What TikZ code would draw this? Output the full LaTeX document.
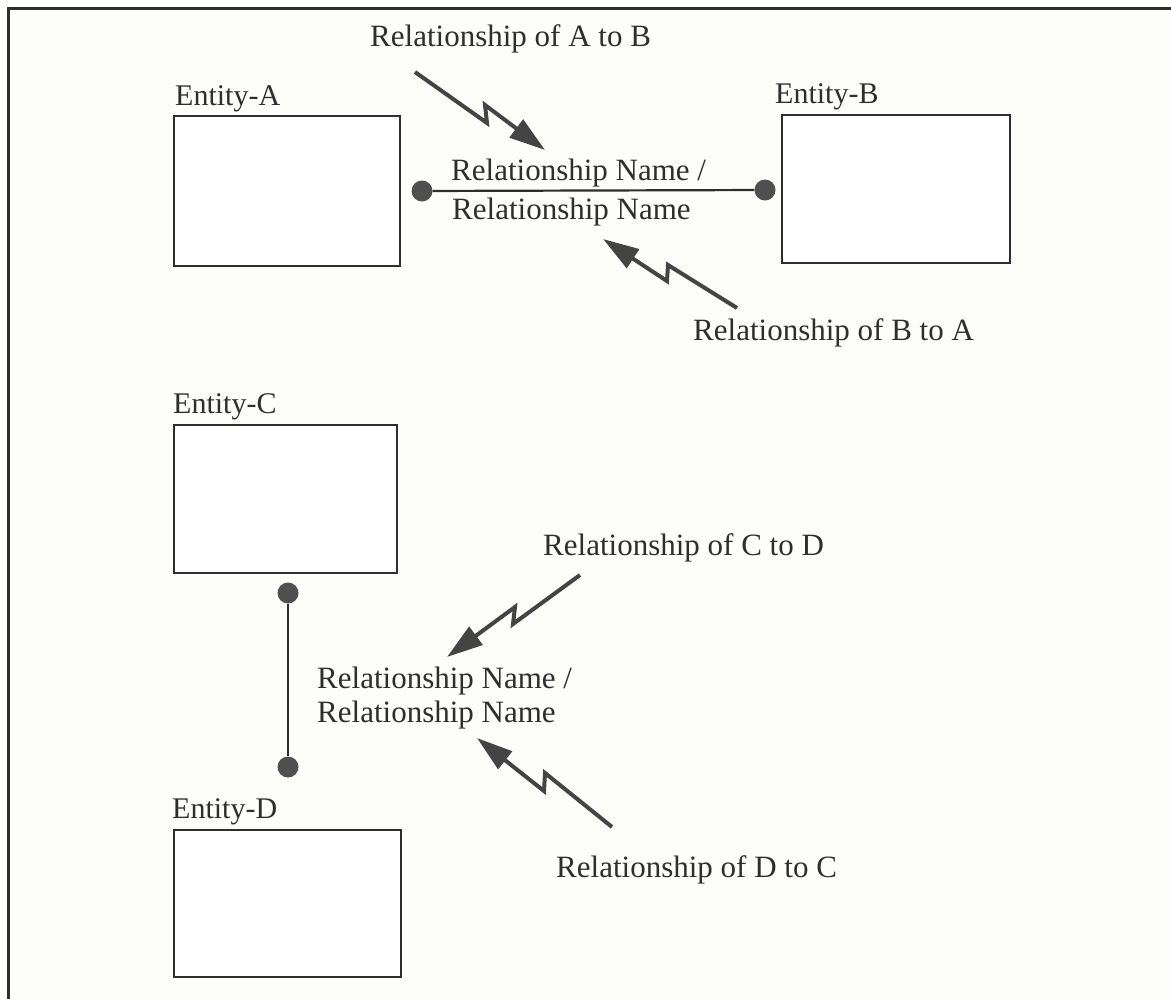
\documentclass[tikz,border=0pt]{standalone}
\usepackage{fontspec}
\setmainfont{Liberation Serif}
\usetikzlibrary{arrows.meta}
\definecolor{ink}{HTML}{2E2E2E}
\definecolor{dotc}{HTML}{505050}
\definecolor{arr}{HTML}{444444}
\definecolor{paper}{HTML}{FDFDF9}
\begin{document}
\begin{tikzpicture}[x=1pt,y=-1pt,
  entbox/.style={draw=ink,line width=2.5pt,inner sep=0pt,fill=white},
  lbl/.style={anchor=base west,inner sep=0pt,text=ink,font=\fontsize{30}{36}\selectfont},
  rel/.style={anchor=base west,inner sep=0pt,text=ink,font=\fontsize{31}{37}\selectfont},
  dotnode/.style={circle,fill=dotc,minimum size=21pt,inner sep=0pt},
  conn/.style={draw=ink,line width=2.2pt},
  bolt/.style={draw=arr,line width=4pt,line join=miter,-{Triangle[length=36pt,width=22pt]}}]
\fill[paper] (0,0) rectangle (1171,999);
\useasboundingbox (0,0) rectangle (1171,999);
\draw[ink,line width=3pt] (8,999) -- (8,8) -- (1171,8);

% entities
\node[entbox,minimum width=226pt,minimum height=150pt] (A) at (287,191) {};
\node[entbox,minimum width=228pt,minimum height=148pt] (B) at (896,189) {};
\node[entbox,minimum width=223pt,minimum height=148pt] (C) at (285.5,499) {};
\node[entbox,minimum width=227pt,minimum height=147pt] (D) at (287.5,903.5) {};

\node[lbl] (Alab) at (175,105) {Entity-A};
\node[lbl] (Blab) at (775,103) {Entity-B};
\node[lbl] (Clab) at (173,413) {Entity-C};
\node[lbl] (Dlab) at (172,818) {Entity-D};

% relationship A-B
\node[dotnode] (dA) at (422,191) {};
\node[dotnode] (dB) at (765,190) {};
\draw[conn] (dA) -- (dB);
\node[rel] (rnAB1) at (451,180) {Relationship Name /};
\node[rel] (rnAB2) at (452,219) {Relationship Name};

% relationship C-D
\node[dotnode] (dC) at (288,593) {};
\node[dotnode] (dD) at (288,767) {};
\draw[conn] (dC) -- (dD);
\node[rel] (rnCD1) at (317,688) {Relationship Name /};
\node[rel] (rnCD2) at (317,722) {Relationship Name};

% relationship role labels
\node[rel] (relAB) at (370,46) {Relationship of A to B};
\node[rel] (relBA) at (693,340) {Relationship of B to A};
\node[rel] (relCD) at (543,555) {Relationship of C to D};
\node[rel] (relDC) at (556,877) {Relationship of D to C};

% lightning arrows
\coordinate (s1) at (415,72);  \coordinate (k1a) at (487,123); \coordinate (k1b) at (485,105); \coordinate (t1) at (545,150);
\coordinate (s2) at (737,308); \coordinate (k2a) at (668,265); \coordinate (k2b) at (667,281); \coordinate (t2) at (603,239);
\coordinate (s3) at (580,575); \coordinate (k3a) at (513,624); \coordinate (k3b) at (515,607); \coordinate (t3) at (447,657);
\coordinate (s4) at (612,827); \coordinate (k4a) at (545,773); \coordinate (k4b) at (544,791); \coordinate (t4) at (477,738);
\draw[bolt] (s1) -- (k1a) -- (k1b) -- (t1);
\draw[bolt] (s2) -- (k2a) -- (k2b) -- (t2);
\draw[bolt] (s3) -- (k3a) -- (k3b) -- (t3);
\draw[bolt] (s4) -- (k4a) -- (k4b) -- (t4);
\end{tikzpicture}
\end{document}
